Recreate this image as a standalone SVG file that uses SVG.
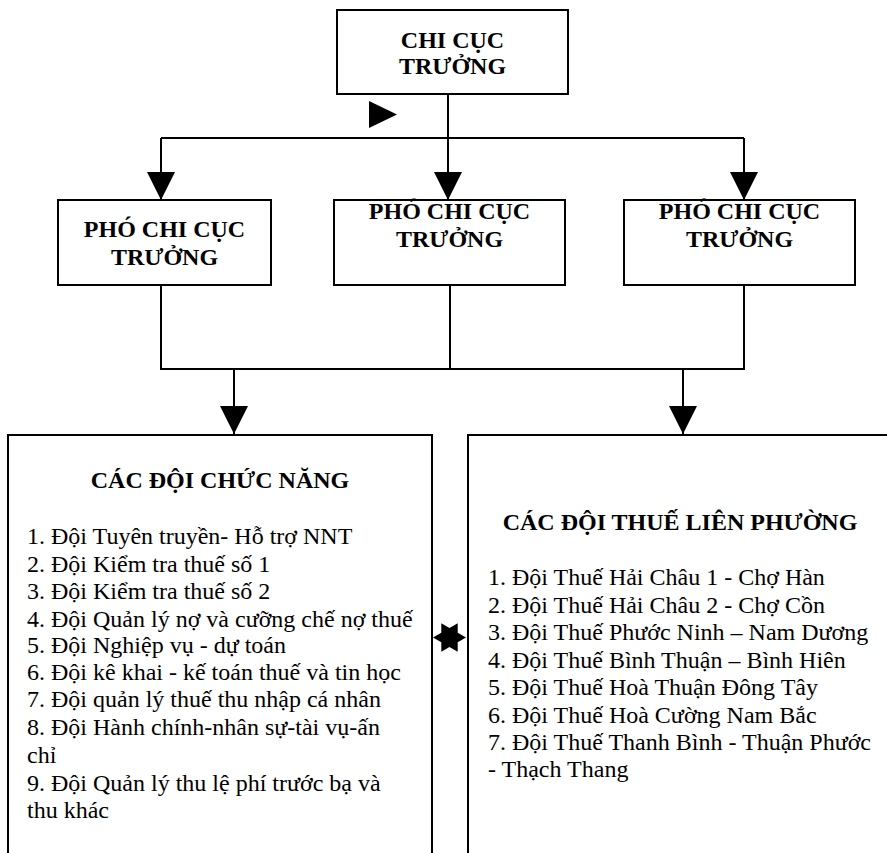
<svg xmlns="http://www.w3.org/2000/svg" width="887" height="853" viewBox="0 0 887 853">
<style>
.box{fill:#fff;stroke:#000;stroke-width:2}
.ln{fill:none;stroke:#000;stroke-width:2}
.t{font-family:"Liberation Serif","Times New Roman",serif;font-size:24px;fill:#000}
.b{font-weight:bold;text-anchor:middle}
</style>
<defs>
<marker id="ah" markerUnits="userSpaceOnUse" markerWidth="28" markerHeight="28" viewBox="0 0 27 27" refX="27" refY="13.5" orient="auto">
<path d="M0,0 L27,13.5 L0,27 Z" fill="#000"/>
</marker>
</defs>
<rect width="887" height="853" fill="#fff"/>
<g id="connectors">
<path class="ln" d="M448,94 V200" marker-end="url(#ah)"/>
<path class="ln" d="M161,138 H744"/>
<path class="ln" d="M161,138 V200" marker-end="url(#ah)"/>
<path class="ln" d="M744,138 V200" marker-end="url(#ah)"/>
<polygon points="369,101 369,128 397,114.5" fill="#000"/>
<path class="ln" d="M161,285 V369 H744 V285"/>
<path class="ln" d="M450,285 V369"/>
<path class="ln" d="M234,369 V434" marker-end="url(#ah)"/>
<path class="ln" d="M683,369 V434" marker-end="url(#ah)"/>
<polygon points="466,637.5 457.7,642.3 457.7,651.8 449.5,647 441.3,651.8 441.3,642.3 433,637.5 441.3,632.7 441.3,623.2 449.5,628 457.7,623.2 457.7,632.7" fill="#000"/>
</g>
<g id="chi-cuc-truong">
<rect class="box" x="337" y="10" width="231" height="84"/>
<text class="t b" x="452.5" y="48">CHI CỤC</text>
<text class="t b" x="452.5" y="74">TRƯỞNG</text>
</g>
<g id="pho-1">
<rect class="box" x="58" y="200" width="213" height="85"/>
<text class="t b" x="164.5" y="237">PHÓ CHI CỤC</text>
<text class="t b" x="164.5" y="265">TRƯỞNG</text>
</g>
<g id="pho-2">
<rect class="box" x="334" y="200" width="231" height="85"/>
<text class="t b" x="449.5" y="219">PHÓ CHI CỤC</text>
<text class="t b" x="449.5" y="247">TRƯỞNG</text>
</g>
<g id="pho-3">
<rect class="box" x="624" y="200" width="231" height="85"/>
<text class="t b" x="739.5" y="219">PHÓ CHI CỤC</text>
<text class="t b" x="739.5" y="247">TRƯỞNG</text>
</g>
<g id="cac-doi-chuc-nang">
<rect class="box" x="8" y="435" width="424" height="430"/>
<text class="t b" x="220" y="488">CÁC ĐỘI CHỨC NĂNG</text>
<text class="t" x="27" y="544">1. Đội Tuyên truyền- Hỗ trợ NNT</text>
<text class="t" x="27" y="572">2. Đội Kiểm tra thuế số 1</text>
<text class="t" x="27" y="599">3. Đội Kiểm tra thuế số 2</text>
<text class="t" x="27" y="627">4. Đội Quản lý nợ và cưỡng chế nợ thuế</text>
<text class="t" x="27" y="653">5. Đội Nghiệp vụ - dự toán</text>
<text class="t" x="27" y="680">6. Đội kê khai - kế toán thuế và tin học</text>
<text class="t" x="27" y="707">7. Đội quản lý thuế thu nhập cá nhân</text>
<text class="t" x="27" y="735">8. Đội Hành chính-nhân sự-tài vụ-ấn</text>
<text class="t" x="27" y="763">chỉ</text>
<text class="t" x="27" y="791">9. Đội Quản lý thu lệ phí trước bạ và</text>
<text class="t" x="27" y="818">thu khác</text>
</g>
<g id="cac-doi-thue-lien-phuong">
<rect class="box" x="468" y="435" width="432" height="430"/>
<text class="t b" x="680" y="530">CÁC ĐỘI THUẾ LIÊN PHƯỜNG</text>
<text class="t" x="488" y="585">1. Đội Thuế Hải Châu 1 - Chợ Hàn</text>
<text class="t" x="488" y="613">2. Đội Thuế Hải Châu 2 - Chợ Cồn</text>
<text class="t" x="488" y="640">3. Đội Thuế Phước Ninh – Nam Dương</text>
<text class="t" x="488" y="668">4. Đội Thuế Bình Thuận – Bình Hiên</text>
<text class="t" x="488" y="695">5. Đội Thuế Hoà Thuận Đông Tây</text>
<text class="t" x="488" y="723">6. Đội Thuế Hoà Cường Nam Bắc</text>
<text class="t" x="488" y="750">7. Đội Thuế Thanh Bình - Thuận Phước</text>
<text class="t" x="488" y="777">- Thạch Thang</text>
</g>
</svg>
